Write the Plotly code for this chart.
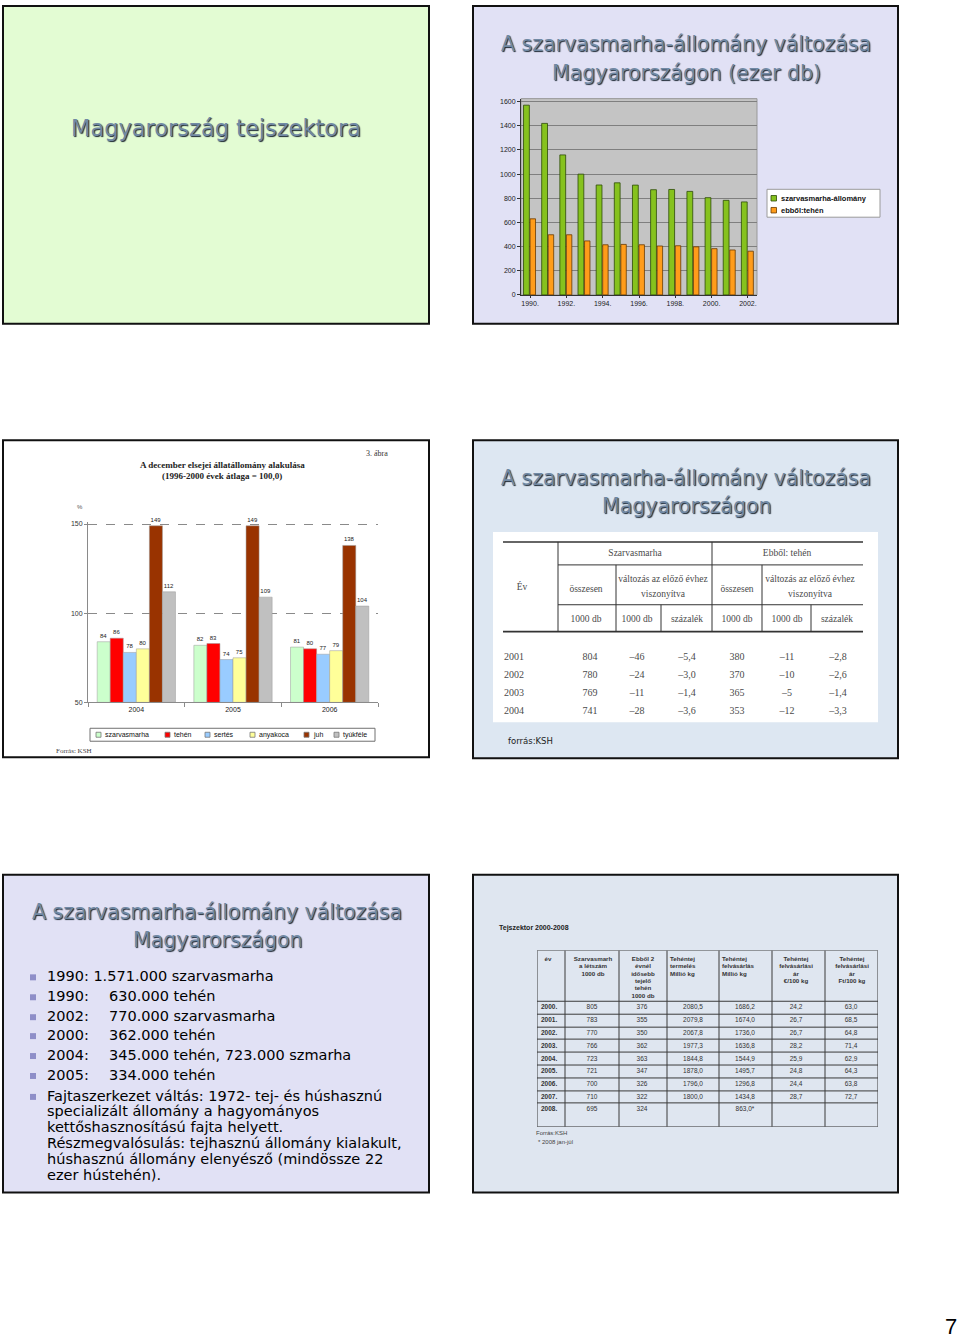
import plotly.graph_objects as go

W, H = 960, 1340


def px(x):
    return x / W


def py(y):
    return 1 - y / H


# ---------------- data ----------------
# Slide 2: cattle stock in Hungary (thousand head)
years = ["1990.", "1991.", "1992.", "1993.", "1994.", "1995.", "1996.",
         "1997.", "1998.", "1999.", "2000.", "2001.", "2002."]
cattle_stock = [1571, 1420, 1159, 1000, 910, 928, 909, 871, 873, 857, 805, 783, 770]
cow_stock = [630, 498, 498, 447, 415, 418, 415, 405, 407, 398, 383, 372, 362]
year_ticks = ["1990.", "1992.", "1994.", "1996.", "1998.", "2000.", "2002."]
stock_ticks = [0, 200, 400, 600, 800, 1000, 1200, 1400, 1600]
stock_names = ["szarvasmarha-állomány", "ebből:tehén"]

# Slide 3: livestock index (1996-2000 avg = 100)
idx_years = ["2004", "2005", "2006"]
idx_names = ["szarvasmarha", "tehén", "sertés", "anyakoca", "juh", "tyúkféle"]
idx_szarvasmarha = [84, 82, 81]
idx_tehen = [86, 83, 80]
idx_sertes = [78, 74, 77]
idx_anyakoca = [80, 75, 79]
idx_juh = [149, 149, 138]
idx_tyukfele = [112, 109, 104]
idx_ticks = [50, 100, 150]
IDX_BASE = 50

# Slide 4: table
t1_years = ["2001", "2002", "2003", "2004"]
t1_cattle_total = ["804", "780", "769", "741"]
t1_cattle_diff = ["–46", "–24", "–11", "–28"]
t1_cattle_pct = ["–5,4", "–3,0", "–1,4", "–3,6"]
t1_cow_total = ["380", "370", "365", "353"]
t1_cow_diff = ["–11", "–10", "–5", "–12"]
t1_cow_pct = ["–2,8", "–2,6", "–1,4", "–3,3"]

# Slide 5: bullets
bullet_years = ["1990:", "1990:", "2002:", "2000:", "2004:", "2005:"]
bullet_values = ["1.571.000 szarvasmarha", "630.000 tehén", "770.000 szarvasmarha",
                 "362.000 tehén", "345.000 tehén, 723.000 szmarha", "334.000 tehén"]
bullet_paragraph = ["Fajtaszerkezet váltás: 1972- tej- és húshasznú",
                    "specializált állomány a hagyományos",
                    "kettőshasznosítású fajta helyett.",
                    "Részmegvalósulás: tejhasznú állomány kialakult,",
                    "húshasznú állomány elenyésző (mindössze 22",
                    "ezer hústehén)."]

# Slide 6: table
t2_years = ["2000.", "2001.", "2002.", "2003.", "2004.", "2005.", "2006.", "2007.", "2008."]
t2_cattle = ["805", "783", "770", "766", "723", "721", "700", "710", "695"]
t2_cows = ["376", "355", "350", "362", "363", "347", "326", "322", "324"]
t2_milk_prod = ["2080,5", "2079,8", "2067,8", "1977,3", "1844,8", "1878,0", "1796,0", "1800,0", ""]
t2_milk_purch = ["1686,2", "1674,0", "1736,0", "1636,8", "1544,9", "1495,7", "1296,8", "1434,8", "863,0*"]
t2_price_eur = ["24,2", "26,7", "26,7", "28,2", "25,9", "24,8", "24,4", "28,7", ""]
t2_price_huf = ["63,0", "68,5", "64,8", "71,4", "62,9", "64,3", "63,8", "72,7", ""]

# ---------------- figure ----------------
fig = go.Figure()
shapes = []
ann = []

SLIDES = [
    (3, 4, 429, 323, "#e3fcd3"),
    (473, 4, 898, 323, "#e1e1f5"),
    (3, 440, 429, 758, "#ffffff"),
    (473, 440, 898, 759, "#dde7f2"),
    (3, 876, 429, 1195, "#e1e1f5"),
    (473, 876, 898, 1195, "#dfe6f0"),
]
for x0, y0, x1, y1, c in SLIDES:
    shapes.append(dict(type="rect", xref="paper", yref="paper", x0=px(x0), x1=px(x1),
                       y0=py(y1), y1=py(y0), fillcolor=c,
                       line=dict(color="#111111", width=2), layer="below"))

TITLE_FONT = "DejaVu Sans"


def title(text, x, y, size):
    ann.append(dict(text=text, x=px(x), y=py(y), xref="paper", yref="paper",
                    showarrow=False, xanchor="center", yanchor="middle",
                    font=dict(family=TITLE_FONT, size=size, color="#7189a4",
                              shadow="1px 1px 1px #1b2733")))


def note(text, x, y, size, family="Liberation Sans", color="#222222", anchor="left"):
    ann.append(dict(text=text, x=px(x), y=py(y), xref="paper", yref="paper",
                    showarrow=False, xanchor=anchor, yanchor="middle",
                    font=dict(family=family, size=size, color=color)))


def legend_box(x0, y0, x1, y1, border):
    shapes.append(dict(type="rect", xref="paper", yref="paper", x0=px(x0), x1=px(x1),
                       y0=py(y1), y1=py(y0), fillcolor="#ffffff",
                       line=dict(color=border, width=1)))


def legend_item(sx, sy, size, color, edge, text, tx, font_size, bold=False):
    shapes.append(dict(type="rect", xref="paper", yref="paper", x0=px(sx), x1=px(sx + size),
                       y0=py(sy + size / 2), y1=py(sy - size / 2), fillcolor=color,
                       line=dict(color=edge, width=0.8)))
    note("<b>" + text + "</b>" if bold else text, tx, sy, font_size, "Liberation Sans", "#111111")


# Slide 1
title("Magyarország tejszektora", 216, 126, 22.5)

# Slide 2 titles
title("A szarvasmarha-állomány változása", 686, 42, 20.5)
title("Magyarországon (ezer db)", 686, 71, 20.5)

# Slide 2 chart
C_CATTLE, C_COW = "#86c21e", "#ff9c1a"
fig.add_trace(go.Bar(x=years, y=cattle_stock, name=stock_names[0],
                     marker=dict(color=C_CATTLE, line=dict(color="#2c4a06", width=0.8)),
                     width=0.32, offset=-0.36, xaxis="x", yaxis="y", showlegend=False,
                     hoverinfo="skip"))
fig.add_trace(go.Bar(x=years, y=cow_stock, name=stock_names[1],
                     marker=dict(color=C_COW, line=dict(color="#6a3a00", width=0.8)),
                     width=0.30, offset=0.0, xaxis="x", yaxis="y", showlegend=False,
                     hoverinfo="skip"))
shapes.append(dict(type="rect", xref="x domain", yref="y domain", x0=0, x1=1, y0=0, y1=1,
                   fillcolor="#c4c4c4", line=dict(color="#999999", width=1), layer="below"))
legend_box(767, 188, 880, 216, "#9a9a9a")
legend_item(771, 197, 5.5, C_CATTLE, "#2c4a06", stock_names[0], 779, 7.5, bold=True)
legend_item(771, 209, 5.5, C_COW, "#6a3a00", stock_names[1], 779, 7.5, bold=True)

# Slide 3 chart
idx_values = [idx_szarvasmarha, idx_tehen, idx_sertes, idx_anyakoca, idx_juh, idx_tyukfele]
idx_colors = ["#ccffcc", "#ff0000", "#99ccff", "#ffff99", "#993300", "#c0c0c0"]
for name, vals, col in zip(idx_names, idx_values, idx_colors):
    fig.add_trace(go.Bar(x=idx_years, y=[v - IDX_BASE for v in vals], base=IDX_BASE, name=name,
                         marker=dict(color=col, line=dict(color="#9a9a9a", width=0.5)),
                         text=[str(v) for v in vals], textposition="outside",
                         textfont=dict(size=6, family="Liberation Sans", color="#222222"),
                         constraintext="none", cliponaxis=False, showlegend=False,
                         xaxis="x2", yaxis="y2", hoverinfo="skip"))
note("<b>A december elsejei állatállomány alakulása</b>", 222, 465, 9, "Liberation Serif", "#222", "center")
note("<b>(1996-2000 évek átlaga = 100,0)</b>", 222, 476, 9, "Liberation Serif", "#222", "center")
note("3. ábra", 377, 453, 8, "Liberation Serif", "#333", "center")
note("%", 80, 507, 6, "Liberation Sans", "#555", "center")
note("Forrás: KSH", 54, 752, 7, "Liberation Serif", "#444")
legend_box(90, 729, 375, 742, "#707070")
leg2_sym = [96, 165, 205, 250, 304, 334]
for sx, name, col in zip(leg2_sym, idx_names, idx_colors):
    legend_item(sx, 735.5, 5, col, "#777777", name, sx + 7, 7)

# Slide 4
title("A szarvasmarha-állomány változása", 686, 478, 20.5)
title("Magyarországon", 686, 506, 20.5)
shapes.append(dict(type="rect", xref="paper", yref="paper", x0=px(493), x1=px(878),
                   y0=py(723), y1=py(532), fillcolor="#ffffff", line=dict(width=0), layer="below"))
note("forrás:KSH", 506, 742, 8.5, "DejaVu Sans", "#222")


def text_trace(xs, ys, texts, ax, size, color, family, pos="middle center"):
    fig.add_trace(go.Scatter(x=xs, y=ys, text=texts, mode="text", textposition=pos,
                             textfont=dict(size=size, color=color, family=family),
                             xaxis="x" + ax, yaxis="y" + ax, showlegend=False,
                             hoverinfo="skip", cliponaxis=False))


T1_FONT = "Liberation Serif"
T1_COL = "#4a4a4a"
t1_rows = [658, 676, 694, 712]
text_trace([504] * 4, t1_rows, t1_years, "3", 10, T1_COL, T1_FONT, "middle right")
for cx, col in [(590, t1_cattle_total), (637, t1_cattle_diff), (687, t1_cattle_pct),
                (737, t1_cow_total), (787, t1_cow_diff), (838, t1_cow_pct)]:
    text_trace([cx] * 4, t1_rows, col, "3", 10, T1_COL, T1_FONT)
t1_header = [
    (635, 554, "Szarvasmarha"), (787, 554, "Ebből: tehén"), (522, 588, "Év"),
    (586, 590, "összesen"), (663, 580, "változás az előző évhez"), (663, 595, "viszonyítva"),
    (737, 590, "összesen"), (810, 580, "változás az előző évhez"), (810, 595, "viszonyítva"),
    (586, 620, "1000 db"), (637, 620, "1000 db"), (687, 620, "százalék"),
    (737, 620, "1000 db"), (787, 620, "1000 db"), (837, 620, "százalék"),
]
text_trace([h[0] for h in t1_header], [h[1] for h in t1_header], [h[2] for h in t1_header],
           "3", 9.5, T1_COL, T1_FONT)
for x0, x1, y, w in [(503, 863, 542, 1.6), (558, 863, 565, 1), (558, 863, 605, 1), (503, 863, 632, 1.6)]:
    shapes.append(dict(type="line", xref="x3", yref="y3", x0=x0, x1=x1, y0=y, y1=y,
                       line=dict(color="#333333", width=w)))
for x, y0, y1 in [(558, 542, 632), (712, 542, 632), (616, 565, 632), (762, 565, 632),
                  (661, 605, 632), (811, 605, 632)]:
    shapes.append(dict(type="line", xref="x3", yref="y3", x0=x, x1=x, y0=y0, y1=y1,
                       line=dict(color="#333333", width=1)))

# Slide 5
title("A szarvasmarha-állomány változása", 217, 913, 20.5)
title("Magyarországon", 217, 942, 20.5)
BUL_FONT = "DejaVu Sans"
BUL_SIZE = 14.5
bul_y = [978, 998, 1018, 1037, 1057, 1077, 1098]
for i, (yr, val) in enumerate(zip(bullet_years, bullet_values)):
    if i == 0:
        note(yr + " " + val, 45, bul_y[i], BUL_SIZE, BUL_FONT, "#000")
    else:
        note(yr, 45, bul_y[i], BUL_SIZE, BUL_FONT, "#000")
        note(val, 107, bul_y[i], BUL_SIZE, BUL_FONT, "#000")
para_y = [1098, 1113, 1129, 1145, 1161, 1177]
for yy, line in zip(para_y, bullet_paragraph):
    note(line, 45, yy, BUL_SIZE, BUL_FONT, "#000")
for yy in bul_y:
    shapes.append(dict(type="rect", xref="paper", yref="paper", x0=px(30), x1=px(36),
                       y0=py(yy + 4), y1=py(yy - 2), fillcolor="#8e8ec8", line=dict(width=0)))

# Slide 6
note("<b>Tejszektor 2000-2008</b>", 497, 929, 7, "Liberation Sans", "#222")
note("Forrás:KSH", 534, 1135, 6, "Liberation Sans", "#444")
note("* 2008 jan-júl", 536, 1144, 6, "Liberation Sans", "#444")
T2_FONT = "Liberation Sans"
T2_COL = "#333333"
t2_rows = [1009, 1022, 1035, 1048, 1061, 1073, 1086, 1099, 1112]
text_trace([541] * 9, t2_rows, ["<b>" + y + "</b>" for y in t2_years], "4", 6.5, T2_COL, T2_FONT, "middle right")
for cx, col in [(592, t2_cattle), (642, t2_cows), (693, t2_milk_prod), (745, t2_milk_purch),
                (796, t2_price_eur), (851, t2_price_huf)]:
    text_trace([cx] * 9, t2_rows, col, "4", 6.5, T2_COL, T2_FONT)
t2_header = [
    (548, "center", ["év"]),
    (593, "center", ["Szarvasmarh", "a létszám", "1000 db"]),
    (643, "center", ["Ebből 2", "évnél", "idősebb", "tejelő", "tehén", "1000 db"]),
    (670, "right", ["Tehéntej", "termelés", "Millió kg"]),
    (722, "right", ["Tehéntej", "felvásárlás", "Millió kg"]),
    (796, "center", ["Tehéntej", "felvásárlási", "ár", "€/100 kg"]),
    (852, "center", ["Tehéntej", "felvásárlási", "ár", "Ft/100 kg"]),
]
for hx, al, lines in t2_header:
    ys = [961 + 7.4 * i for i in range(len(lines))]
    text_trace([hx] * len(lines), ys, ["<b>" + s + "</b>" for s in lines], "4", 6.2, T2_COL, T2_FONT,
               "middle " + al)
t2_cols = [537, 565, 619, 667, 719, 772, 825, 878]
t2_lines = [952, 1003, 1016, 1029, 1041, 1054, 1067, 1080, 1093, 1105, 1129]
for x in t2_cols:
    shapes.append(dict(type="line", xref="x4", yref="y4", x0=x, x1=x, y0=952, y1=1129,
                       line=dict(color="#3a3a3a", width=1)))
for y in t2_lines:
    shapes.append(dict(type="line", xref="x4", yref="y4", x0=537, x1=878, y0=y, y1=y,
                       line=dict(color="#3a3a3a", width=1)))

# page number
note("7", 951, 1329, 22, "Liberation Sans", "#000", "center")

TICKF = dict(family="Liberation Sans", size=7, color="#222222")
fig.update_layout(
    width=W, height=H, autosize=False,
    margin=dict(l=0, r=0, t=0, b=0),
    paper_bgcolor="#ffffff", plot_bgcolor="rgba(0,0,0,0)",
    barmode="group", bargap=0.19, bargroupgap=0,
    showlegend=False,
    shapes=shapes, annotations=ann,
    xaxis=dict(domain=[px(521), px(757)], anchor="y", type="category",
               categoryorder="array", categoryarray=years, range=[-0.5, 12.5],
               tickvals=year_ticks, tickfont=TICKF, showline=True, linecolor="#333333",
               ticks="outside", ticklen=2, tickcolor="#333333", showgrid=False, fixedrange=True),
    yaxis=dict(domain=[py(294), py(97)], anchor="x", range=[0, 1625], tickvals=stock_ticks,
               tickfont=TICKF, showline=True, linecolor="#333333", ticks="outside", ticklen=3,
               tickcolor="#333333", showgrid=True, gridcolor="#7f7f7f", gridwidth=1,
               zeroline=False, fixedrange=True),
    xaxis2=dict(domain=[px(88), px(378)], anchor="y2", type="category",
                tickfont=TICKF, showline=True, linecolor="#8a8a8a", ticks="outside",
                tickson="boundaries", ticklen=4, tickcolor="#8a8a8a", showgrid=False,
                fixedrange=True),
    yaxis2=dict(domain=[py(703), py(522.2)], anchor="x2", range=[50, 151], tickvals=idx_ticks,
                tickfont=dict(family="Liberation Sans", size=7, color="#333333"),
                showline=True, linecolor="#8a8a8a", ticks="outside", ticklen=3,
                tickcolor="#8a8a8a", showgrid=True, gridcolor="#8a8a8a", griddash="dash",
                gridwidth=1, zeroline=False, fixedrange=True),
    xaxis3=dict(domain=[px(493), px(878)], anchor="y3", range=[493, 878], visible=False,
                fixedrange=True),
    yaxis3=dict(domain=[py(723), py(532)], anchor="x3", range=[723, 532], visible=False,
                fixedrange=True),
    xaxis4=dict(domain=[px(537), px(878)], anchor="y4", range=[537, 878], visible=False,
                fixedrange=True),
    yaxis4=dict(domain=[py(1129), py(952)], anchor="x4", range=[1129, 952], visible=False,
                fixedrange=True),
)

fig.write_html("out.html", config={"displayModeBar": False},
               post_script="document.body.style.margin='0px';")
